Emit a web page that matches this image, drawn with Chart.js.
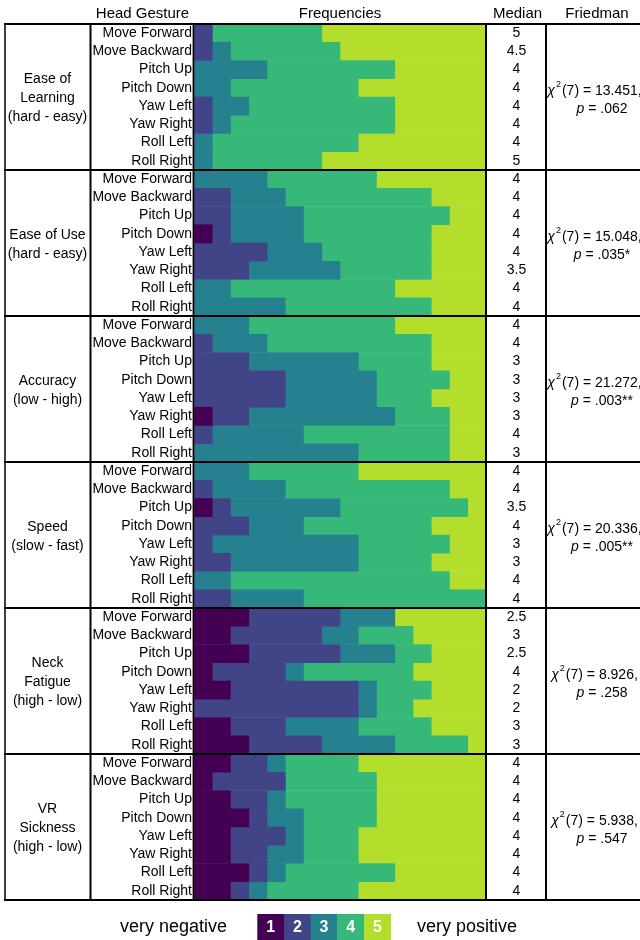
<!DOCTYPE html>
<html>
<head>
<meta charset="utf-8">
<script src="https://cdn.jsdelivr.net/npm/chart.js@4.4.0/dist/chart.umd.min.js"></script>
<style>
  body { margin: 0; background: #fff; }
</style>
</head>
<body>
<canvas id="freqChart" width="640" height="940"></canvas>
<script>
const gestures = ['Move Forward', 'Move Backward', 'Pitch Up', 'Pitch Down', 'Yaw Left', 'Yaw Right', 'Roll Left', 'Roll Right'];
const measureLabels = [
    ['Ease of', 'Learning', '(hard - easy)'],
    ['Ease of Use', '(hard - easy)'],
    ['Accuracy', '(low - high)'],
    ['Speed', '(slow - fast)'],
    ['Neck', 'Fatigue', '(high - low)'],
    ['VR', 'Sickness', '(high - low)']
];
const ratings = ['1', '2', '3', '4', '5'];
const ratingColors = ['#440154', '#414487', '#26818e', '#36b879', '#b4de2c'];

// counts of answers 1..5 per gesture (16 participants)
const easeOfLearning = [[0,1,0,6,9], [0,1,1,6,8], [0,0,4,7,5], [0,0,2,7,7], [0,1,2,8,5], [0,1,1,9,5], [0,0,1,8,7], [0,0,1,6,9]];
const easeOfUse      = [[0,0,4,6,6], [0,2,3,8,3], [0,2,4,8,2], [1,1,4,7,3], [0,4,3,6,3], [0,3,5,5,3], [0,0,2,9,5], [0,0,5,8,3]];
const accuracy       = [[0,0,3,8,5], [0,1,3,9,3], [0,3,6,4,3], [0,5,5,4,2], [0,5,5,3,3], [1,2,8,3,2], [0,1,5,8,2], [0,0,9,5,2]];
const speed          = [[0,0,3,6,7], [0,1,4,9,2], [1,1,6,7,1], [0,3,3,7,3], [0,1,8,5,2], [0,2,7,4,3], [0,0,2,12,2], [0,2,4,10,0]];
const neckFatigue    = [[3,5,3,0,5], [2,5,2,3,4], [3,5,3,2,3], [1,4,1,6,4], [2,7,1,3,3], [0,9,1,2,4], [2,3,4,4,3], [3,4,4,4,1]];
const vrSickness     = [[2,2,1,4,7], [1,4,0,5,6], [2,2,1,5,6], [3,1,2,4,6], [2,3,1,3,7], [2,2,2,3,7], [3,1,1,6,5], [2,1,1,5,7]];
const allMeasures = [easeOfLearning, easeOfUse, accuracy, speed, neckFatigue, vrSickness];

const medians = [
    ['5', '4.5', '4', '4', '4', '4', '4', '5'],
    ['4', '4', '4', '4', '4', '3.5', '4', '4'],
    ['4', '4', '3', '3', '3', '3', '4', '3'],
    ['4', '4', '3.5', '4', '3', '3', '4', '4'],
    ['2.5', '3', '2.5', '4', '2', '2', '3', '3'],
    ['4', '4', '4', '4', '4', '4', '4', '4']
];
const chiValues = ['13.451,', '15.048,', '21.272,', '20.336,', '8.926,', '5.938,'];
const pValues = ['.062', '.035*', '.003**', '.005**', '.258', '.547'];

const FONT = "'Liberation Sans', Arial, sans-serif";
Chart.defaults.font.family = FONT;

const labels = [];
allMeasures.forEach(() => gestures.forEach(g => labels.push(g)));

const datasets = ratings.map((r, k) => ({
    label: r,
    data: allMeasures.flatMap(m => m.map(row => row[k])),
    backgroundColor: ratingColors[k],
    borderWidth: 0,
    barPercentage: 1,
    categoryPercentage: 1
}));

const tableDecor = {
    id: 'tableDecor',
    afterDraw(chart) {
        const c = chart.ctx;
        const area = chart.chartArea;
        const yScale = chart.scales.y;
        const rowH = (area.bottom - area.top) / labels.length;
        const groupTop = g => area.top + g * 8 * rowH;
        const right = chart.width;

        c.save();
        c.fillStyle = '#000';
        c.textBaseline = 'middle';
        c.textAlign = 'center';

        // header
        c.font = '15px ' + FONT;
        c.fillText('Head Gesture', 142.5, 14);
        c.fillText('Frequencies', (area.left + area.right) / 2, 14);
        c.fillText('Median', 517.5, 14);
        c.fillText('Friedman', 597, 14);

        c.font = '14px ' + FONT;
        allMeasures.forEach((m, g) => {
            const mid = groupTop(g) + 4 * rowH;
            // measure name
            const lines = measureLabels[g];
            lines.forEach((t, i) => {
                c.fillText(t, 47.5, mid + 1.5 + (i - (lines.length - 1) / 2) * 19);
            });
            // medians
            medians[g].forEach((v, i) => {
                c.fillText(v, 516.5, yScale.getPixelForValue(g * 8 + i));
            });
            // friedman
            const y1 = mid - 6;
            const parts = [
                { t: '\u03c7', f: 'italic 14px ' + FONT, dy: 0 },
                { t: '2', f: '9px ' + FONT, dy: -6 },
                { t: '(7) = ' + chiValues[g], f: '14px ' + FONT, dy: 0 }
            ];
            let w = 0;
            parts.forEach(p => { c.font = p.f; p.w = c.measureText(p.t).width; w += p.w + 1; });
            let x = 595 - w / 2;
            c.textAlign = 'left';
            parts.forEach(p => { c.font = p.f; c.fillText(p.t, x, y1 + p.dy); x += p.w + 1; });
            c.font = 'italic 14px ' + FONT;
            const pw = c.measureText('p').width;
            c.font = '14px ' + FONT;
            const rest = ' = ' + pValues[g];
            const rw = c.measureText(rest).width;
            const px = 602 - (pw + rw) / 2;
            c.font = 'italic 14px ' + FONT;
            c.fillText('p', px, mid + 12);
            c.font = '14px ' + FONT;
            c.fillText(rest, px + pw, mid + 12);
            c.textAlign = 'center';
        });

        // table lines
        c.strokeStyle = '#000';
        c.lineWidth = 2;
        for (let g = 0; g <= allMeasures.length; g++) {
            const y = groupTop(g);
            c.beginPath();
            c.moveTo(4, y);
            c.lineTo(right, y);
            c.stroke();
        }
        [[5, 1.5], [90.5, 2], [193.3, 1.4], [486, 2], [546, 2]].forEach(([x, lw]) => {
            c.lineWidth = lw;
            c.beginPath();
            c.moveTo(x, area.top);
            c.lineTo(x, area.bottom);
            c.stroke();
        });

        // legend
        c.font = '18px ' + FONT;
        c.fillStyle = '#000';
        c.fillText('very negative', 173.5, 927);
        c.fillText('very positive', 467, 927);
        const boxW = 26.7;
        chart.data.datasets.forEach((ds, k) => {
            const bx = 257.3 + k * boxW;
            c.fillStyle = ds.backgroundColor;
            c.fillRect(bx, 914, boxW + 0.3, 26);
            c.fillStyle = '#fff';
            c.font = 'bold 16px ' + FONT;
            c.fillText(ds.label, bx + boxW / 2, 927.5);
        });
        c.restore();
    }
};

const ctx = document.getElementById('freqChart').getContext('2d');
const chart = new Chart(ctx, {
    type: 'bar',
    data: { labels: labels, datasets: datasets },
    options: {
        indexAxis: 'y',
        responsive: false,
        animation: false,
        layout: { padding: { left: 0, right: 154, top: 24, bottom: 40 } },
        plugins: {
            legend: { display: false },
            tooltip: { enabled: false }
        },
        scales: {
            x: { stacked: true, min: 0, max: 16, display: false },
            y: {
                stacked: true,
                grid: { display: false, drawTicks: false },
                border: { display: false },
                ticks: { autoSkip: false, color: '#000', font: { size: 14 }, padding: 2 },
                afterFit: scale => { scale.width = 194; }
            }
        }
    },
    plugins: [tableDecor]
});
</script>
</body>
</html>
